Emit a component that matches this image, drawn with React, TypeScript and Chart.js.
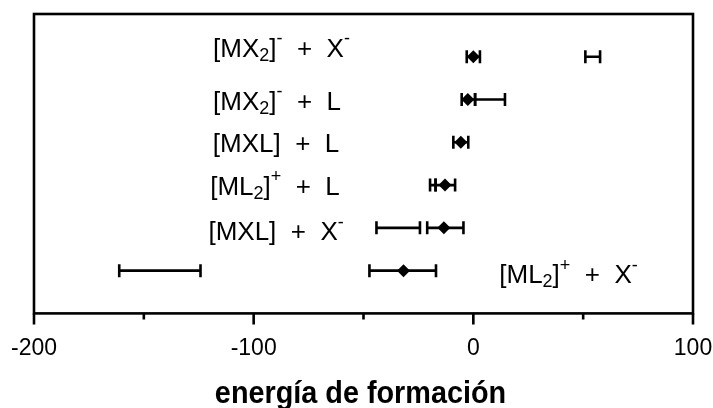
import { useEffect, useRef } from 'react';
import { Chart, registerables } from 'chart.js';

Chart.register(...registerables);

// Reaction channels, top to bottom. "_x" = subscript, "^x" = superscript.
const reactions = [
  '[MX_2]^-  +  X^-',
  '[MX_2]^-  +  L',
  '[MXL]  +  L',
  '[ML_2]^+  +  L',
  '[MXL]  +  X^-',
  '[ML_2]^+  +  X^-',
];

// Formation energy of each channel and its uncertainty range
const energy = [0, -2.5, -5.7, -12.9, -13.4, -31.8];
const errorLow = [-3, -5.3, -9.1, -17.2, -21, -47.3];
const errorHigh = [3, 0.8, -2.3, -8.3, -4.5, -17];

// Second (alternative) estimate shown as a bare range
const altLow: (number | null)[] = [51, 0.8, null, -19.7, -44.1, -161.2];
const altHigh: (number | null)[] = [57.7, 14.4, null, -17.2, -24.3, -124.2];

const majorTicks = [-200, -100, 0, 100];
const minorTicks = [-150, -50, 50];
const axisTitle = 'energía de formación';

// Where each reaction label sits, in axis units (x = left edge, y = row level)
const labelX = [-118.5, -118.5, -118.6, -119.8, -120.6, 11.8];
const labelY = [6.22, 4.98, 4.0, 2.99, 1.93, 0.92];

const FONT = '"Liberation Sans", Arial, Helvetica, sans-serif';

type Seg = { text: string; kind: 'n' | 'sub' | 'sup' };

function parseLabel(s: string): Seg[] {
  const segs: Seg[] = [];
  let buf = '';
  let i = 0;
  while (i < s.length) {
    const c = s[i];
    if ((c === '_' || c === '^') && i + 1 < s.length) {
      if (buf) segs.push({ text: buf, kind: 'n' });
      buf = '';
      segs.push({ text: s[i + 1], kind: c === '_' ? 'sub' : 'sup' });
      i += 2;
    } else {
      buf += c;
      i += 1;
    }
  }
  if (buf) segs.push({ text: buf, kind: 'n' });
  return segs;
}

const rowOf = (i: number) => reactions.length - i;

const decorations = {
  id: 'decorations',
  beforeDatasetsDraw(chart: any) {
    const { ctx } = chart;
    const x = chart.scales.x;
    const y = chart.scales.y;
    const cap = 6.5;
    ctx.save();
    ctx.strokeStyle = '#000';
    ctx.lineWidth = 2.6;
    const bar = (lo: number, hi: number, row: number) => {
      const x0 = x.getPixelForValue(lo);
      const x1 = x.getPixelForValue(hi);
      const py = y.getPixelForValue(row);
      ctx.beginPath();
      ctx.moveTo(x0, py);
      ctx.lineTo(x1, py);
      ctx.moveTo(x0, py - cap);
      ctx.lineTo(x0, py + cap);
      ctx.moveTo(x1, py - cap);
      ctx.lineTo(x1, py + cap);
      ctx.stroke();
    };
    energy.forEach((_, i) => {
      bar(errorLow[i], errorHigh[i], rowOf(i));
      const lo = altLow[i];
      const hi = altHigh[i];
      if (lo !== null && hi !== null) bar(lo, hi, rowOf(i));
    });
    ctx.restore();
  },
  afterDraw(chart: any) {
    const { ctx, chartArea } = chart;
    const x = chart.scales.x;
    const y = chart.scales.y;
    const { left, right, top, bottom } = chartArea;
    ctx.save();

    // frame
    ctx.strokeStyle = '#000';
    ctx.lineWidth = 2.6;
    ctx.strokeRect(left, top, right - left, bottom - top);

    // major and minor tick marks below the axis
    ctx.beginPath();
    majorTicks.forEach((v) => {
      const px = x.getPixelForValue(v);
      ctx.moveTo(px, bottom);
      ctx.lineTo(px, bottom + 11);
    });
    minorTicks.forEach((v) => {
      const px = x.getPixelForValue(v);
      ctx.moveTo(px, bottom);
      ctx.lineTo(px, bottom + 6);
    });
    ctx.stroke();

    // reaction labels
    ctx.fillStyle = '#000';
    ctx.textAlign = 'left';
    ctx.textBaseline = 'alphabetic';
    const size = 26;
    const small = 18;
    reactions.forEach((label, i) => {
      let px = x.getPixelForValue(labelX[i]);
      const base = y.getPixelForValue(labelY[i]) + (size * 0.716) / 2;
      parseLabel(label).forEach((seg) => {
        if (seg.kind === 'n') {
          ctx.font = `${size}px ${FONT}`;
          ctx.fillText(seg.text, px, base);
        } else if (seg.kind === 'sub') {
          ctx.font = `${small}px ${FONT}`;
          ctx.fillText(seg.text, px, base + 4);
        } else {
          ctx.font = `${small}px ${FONT}`;
          ctx.fillText(seg.text, px, base - 12.5);
        }
        px += ctx.measureText(seg.text).width;
      });
    });

    // axis title
    ctx.font = `bold 32px ${FONT}`;
    ctx.textAlign = 'center';
    ctx.translate((left + right) / 2 - 3, 403);
    ctx.scale(0.9, 1);
    ctx.fillText(axisTitle, 0, 0);
    ctx.restore();
  },
};

export default function App() {
  const ref = useRef<HTMLCanvasElement | null>(null);

  useEffect(() => {
    if (!ref.current) return;
    const chart = new Chart(ref.current, {
      type: 'scatter',
      data: {
        datasets: [
          {
            data: energy.map((v, i) => ({ x: v, y: rowOf(i) })),
            pointStyle: 'rectRot',
            pointRadius: 6.5,
            backgroundColor: '#000',
            borderColor: '#000',
            borderWidth: 0,
          },
        ],
      },
      options: {
        animation: false,
        responsive: false,
        layout: { padding: { left: 34, right: 20, top: 14, bottom: 46 } },
        plugins: {
          legend: { display: false },
          tooltip: { enabled: false },
        },
        scales: {
          x: {
            type: 'linear',
            min: -200,
            max: 100,
            afterBuildTicks: (scale: any) => {
              scale.ticks = majorTicks.map((value) => ({ value }));
            },
            ticks: {
              font: { family: FONT, size: 23 },
              color: '#000',
              padding: 0,
              maxRotation: 0,
              callback: (v: any) => String(v),
            },
            grid: {
              display: true,
              drawOnChartArea: false,
              drawTicks: true,
              tickLength: 21,
              color: 'rgba(0,0,0,0)',
            },
            border: { display: false },
          },
          y: { type: 'linear', min: 0, max: 7, display: false },
        },
      },
      plugins: [decorations],
    });
    return () => chart.destroy();
  }, []);

  return (
    <div style={{ position: 'absolute', left: 0, top: 0, width: 713, height: 408, background: '#fff' }}>
      <canvas ref={ref} width={713} height={408} style={{ display: 'block' }} />
    </div>
  );
}
